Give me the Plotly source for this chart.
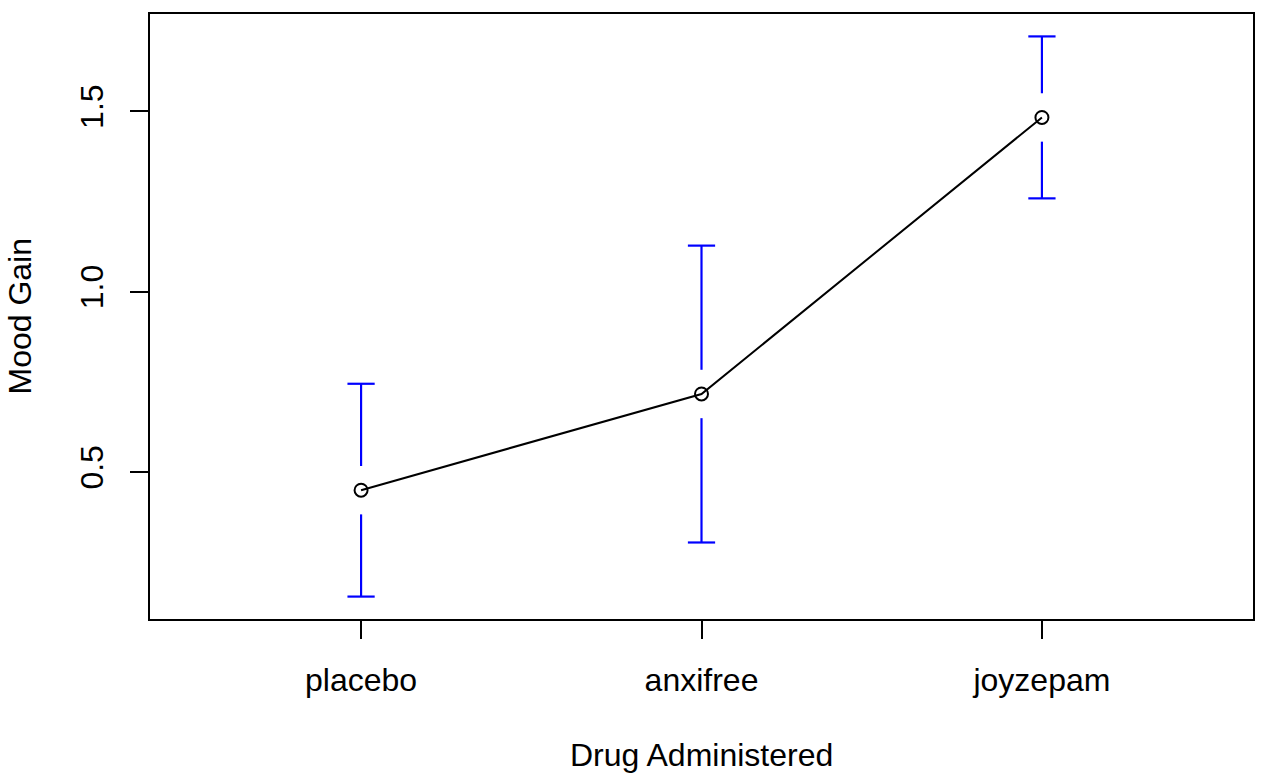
import plotly.graph_objects as go

categories = ["placebo", "anxifree", "joyzepam"]
means = [0.45, 0.7167, 1.4833]
ci_lower = [0.155, 0.305, 1.259]
ci_upper = [0.745, 1.128, 1.708]
y_ticks = [0.5, 1.0, 1.5]
y_tick_text = ["0.5", "1.0", "1.5"]

xpos = list(range(1, len(categories) + 1))
ymin = min(ci_lower) - 0.04 * (max(ci_upper) - min(ci_lower))
ymax = max(ci_upper) + 0.04 * (max(ci_upper) - min(ci_lower))
xmin = 0.5 - 0.04 * len(categories)
xmax = len(categories) + 0.5 + 0.04 * len(categories)
gap = 0.04 * (ymax - ymin)
cap = 0.04

FONT = "Liberation Sans, Arial, sans-serif"
FS = 32

bx, by = [], []
for x, m, lo, hi in zip(xpos, means, ci_lower, ci_upper):
    bx += [x, x, None, x - cap, x + cap, None]
    by += [m + gap, hi, None, hi, hi, None]
    bx += [x, x, None, x - cap, x + cap, None]
    by += [m - gap, lo, None, lo, lo, None]

fig = go.Figure()
fig.add_trace(go.Scatter(x=bx, y=by, mode="lines",
                         line=dict(color="#0000FF", width=2.2),
                         hoverinfo="skip", showlegend=False))
fig.add_trace(go.Scatter(x=xpos, y=means, mode="lines+markers",
                         line=dict(color="black", width=2),
                         marker=dict(symbol="circle-open", size=13,
                                     color="black", line=dict(width=2)),
                         showlegend=False))

axis_common = dict(showline=True, linecolor="black", linewidth=2,
                   mirror=True, showgrid=False, zeroline=False,
                   ticks="outside", ticklen=18, tickwidth=2,
                   tickcolor="black",
                   tickfont=dict(family=FONT, size=FS, color="black"))

fig.update_layout(
    width=1270, height=781,
    margin=dict(l=150, r=17, t=12, b=162),
    paper_bgcolor="white", plot_bgcolor="white",
    xaxis=dict(range=[xmin, xmax], tickvals=xpos, ticktext=categories,
               ticklabelstandoff=14, **axis_common),
    yaxis=dict(range=[ymin, ymax], tickvals=y_ticks, ticktext=y_tick_text,
               tickangle=-90, ticklabelstandoff=14, **axis_common),
    annotations=[
        dict(text="Drug Administered", xref="paper", yref="paper",
             x=0.5, y=0, xanchor="center", yanchor="middle", yshift=-136,
             showarrow=False,
             font=dict(family=FONT, size=FS, color="black")),
        dict(text="Mood Gain", xref="paper", yref="paper",
             x=0, y=0.5, xanchor="center", yanchor="middle", xshift=-131,
             textangle=-90, showarrow=False,
             font=dict(family=FONT, size=FS, color="black")),
    ],
)

fig.write_html("out.html",
               config={"displayModeBar": False},
               post_script="document.body.style.margin='0';"
                           "document.body.style.overflow='hidden';")
